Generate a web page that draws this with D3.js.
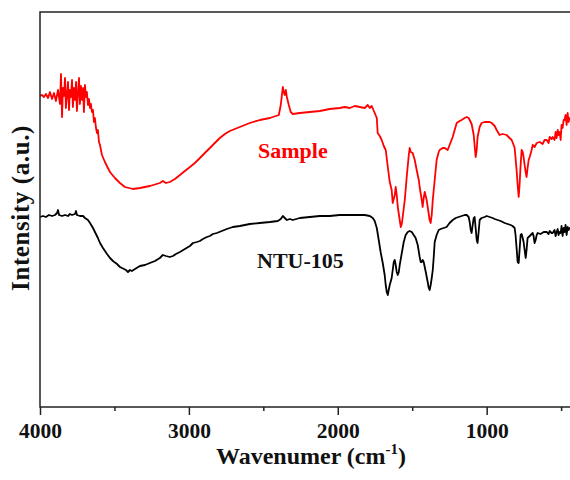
<!DOCTYPE html>
<html>
<head>
<meta charset="utf-8">
<script src="https://cdn.jsdelivr.net/npm/d3@7"></script>
<style>
  body { margin: 0; background: #fff; }
  svg text { font-family: "Liberation Serif", "Times New Roman", serif; font-weight: bold; }
</style>
</head>
<body>
<div id="chart"></div>
<script>
// FTIR spectra, [wavenumber cm-1, intensity a.u.]
const sampleSpectrum = [
  [4000,311],[3987,312],[3973,310],[3960,313],[3946,309],[3933,315],[3919,308],[3906,314],[3893,306],[3879,317],
  [3866,303],[3859,333],[3852,290],[3846,319],[3839,311],[3832,329],[3826,299],[3819,312],[3812,325],[3805,297],
  [3799,317],[3792,310],[3785,327],[3779,300],[3772,319],[3765,307],[3758,325],[3752,296],[3745,314],[3738,329],
  [3732,303],[3725,321],[3718,307],[3711,319],[3705,295],[3698,322],[3691,310],[3685,315],[3678,302],[3671,308],
  [3664,299],[3658,303],[3651,295],[3644,297],[3638,285],[3631,289],[3624,279],[3617,274],[3611,277],[3604,265],
  [3597,262],[3584,252],[3564,245],[3544,239],[3530,235],[3497,229],[3463,224],[3430,220],[3376,218],[3329,219],
  [3262,221],[3195,224],[3175,226],[3154,224],[3128,225],[3094,228],[3060,232],[3027,236],[2993,240],[2960,244],
  [2926,249],[2893,254],[2859,259],[2826,264],[2792,269],[2758,273],[2725,276],[2658,280],[2591,284],[2524,287],
  [2456,289],[2396,292],[2383,302],[2369,320],[2363,315],[2356,312],[2349,317],[2342,310],[2329,302],[2316,295],
  [2302,293],[2255,294],[2188,295],[2121,296],[2054,298],[1987,299],[1953,300],[1920,299],[1886,301],[1852,300],
  [1819,299],[1799,302],[1785,299],[1772,301],[1752,294],[1738,289],[1732,274],[1718,271],[1705,267],[1691,261],
  [1678,257],[1664,240],[1651,225],[1638,217],[1631,204],[1617,212],[1611,220],[1604,212],[1597,200],[1584,187],
  [1577,180],[1570,183],[1564,190],[1550,207],[1537,230],[1523,252],[1517,259],[1510,255],[1497,254],[1483,247],
  [1470,237],[1456,227],[1450,220],[1436,207],[1430,200],[1423,209],[1416,215],[1403,207],[1396,200],[1383,187],
  [1376,184],[1369,192],[1362,207],[1349,227],[1336,247],[1322,255],[1316,257],[1295,259],[1282,259],[1262,257],
  [1249,262],[1228,270],[1215,277],[1201,284],[1181,286],[1168,287],[1148,289],[1134,290],[1121,289],[1114,287],
  [1101,283],[1087,272],[1074,250],[1067,257],[1061,270],[1047,280],[1034,284],[1014,285],[1000,285],[980,285],
  [966,284],[946,281],[933,277],[913,272],[893,273],[866,272],[846,269],[832,267],[819,262],[812,259],
  [806,249],[799,237],[792,222],[785,210],[779,222],[772,242],[765,257],[758,255],[752,250],[745,242],
  [738,235],[732,230],[725,239],[718,247],[711,250],[698,257],[691,262],[678,260],[664,264],[644,265],
  [624,263],[611,267],[597,267],[584,264],[577,270],[564,268],[557,270],[544,267],[537,275],[530,269],
  [523,277],[517,272],[510,275],[503,267],[497,282],[490,279],[483,287],[477,287],[470,292],[463,282],
  [456,294],[450,285],[443,289],[420,287],[400,290]
];

const ntu105Spectrum = [
  [4000,190],[3980,191],[3960,190],[3940,192],[3919,191],[3899,192],[3886,194],[3879,197],[3872,192],[3852,191],
  [3832,192],[3812,191],[3799,193],[3785,192],[3765,193],[3758,196],[3752,192],[3732,191],[3711,191],[3698,189],
  [3678,187],[3664,184],[3644,179],[3631,175],[3611,169],[3597,164],[3577,159],[3550,153],[3530,149],[3510,146],
  [3483,143],[3463,140],[3436,138],[3423,137],[3409,135],[3396,137],[3383,136],[3362,138],[3329,141],[3295,142],
  [3262,144],[3228,146],[3195,149],[3175,152],[3154,151],[3128,150],[3107,151],[3087,153],[3060,155],[3027,158],
  [2993,161],[2973,164],[2946,165],[2926,166],[2906,168],[2879,170],[2859,171],[2839,173],[2812,174],[2779,176],
  [2745,178],[2705,180],[2658,181],[2624,182],[2591,183],[2524,184],[2456,185],[2403,186],[2383,188],[2369,191],
  [2356,189],[2342,187],[2322,188],[2302,187],[2255,189],[2188,190],[2121,191],[2054,191],[1987,192],[1920,192],
  [1852,192],[1819,192],[1785,191],[1765,189],[1752,186],[1738,179],[1725,167],[1711,154],[1698,144],[1685,132],
  [1678,122],[1671,115],[1664,112],[1658,117],[1651,122],[1638,129],[1631,137],[1624,145],[1617,147],[1611,142],
  [1604,135],[1597,132],[1590,135],[1584,142],[1570,154],[1557,165],[1544,172],[1530,175],[1517,176],[1503,175],
  [1490,172],[1477,169],[1463,162],[1450,150],[1443,145],[1436,145],[1430,147],[1423,145],[1409,135],[1396,125],
  [1389,119],[1383,117],[1376,122],[1369,129],[1362,137],[1356,149],[1349,165],[1336,172],[1322,177],[1309,178],
  [1289,179],[1269,180],[1249,184],[1228,187],[1208,189],[1188,190],[1168,191],[1148,192],[1134,192],[1121,190],
  [1114,185],[1107,177],[1101,174],[1094,182],[1087,189],[1081,190],[1074,179],[1067,167],[1061,164],[1054,175],
  [1047,187],[1034,189],[1014,190],[1000,191],[980,190],[960,189],[946,188],[926,187],[906,186],[879,184],
  [859,183],[839,182],[826,181],[812,179],[806,172],[799,159],[792,145],[785,144],[779,157],[772,172],
  [765,173],[758,169],[752,165],[745,157],[738,149],[732,157],[725,169],[711,171],[691,174],[685,171],
  [678,164],[671,167],[664,172],[658,174],[638,173],[617,175],[597,175],[584,173],[577,176],[564,174],
  [557,174],[544,177],[537,171],[530,175],[523,178],[517,172],[510,175],[503,174],[497,181],[490,171],
  [483,179],[477,175],[470,182],[463,172],[456,180],[450,177],[443,179],[420,178],[400,179]
];

const majorTicks = [4000, 3000, 2000, 1000];
const minorTicks = [3500, 2500, 1500, 500];
const seriesLabels = ["Sample", "NTU-105"];

const width = 570, height = 480;
const margin = {top: 12, right: -6, bottom: 73, left: 40};

const svg = d3.select("#chart").append("svg")
  .attr("width", width)
  .attr("height", height)
  .style("background", "#fff");

const x = d3.scaleLinear()
  .domain([4000, 400])
  .range([margin.left, width - margin.right]);

const y = d3.scaleLinear()
  .domain([0, 395])
  .range([height - margin.bottom, margin.top]);

const line = d3.line()
  .x(d => x(d[0]))
  .y(d => y(d[1]));

// spectra
svg.append("path")
  .datum(ntu105Spectrum)
  .attr("fill", "none")
  .attr("stroke", "#000")
  .attr("stroke-width", 1.8)
  .attr("stroke-linejoin", "round")
  .attr("d", line);

svg.append("path")
  .datum(sampleSpectrum)
  .attr("fill", "none")
  .attr("stroke", "#ff0000")
  .attr("stroke-width", 1.8)
  .attr("stroke-linejoin", "round")
  .attr("d", line);

// frame
const y0 = height - margin.bottom;
svg.append("rect")
  .attr("x", margin.left)
  .attr("y", margin.top)
  .attr("width", x(400) - margin.left)
  .attr("height", y0 - margin.top)
  .attr("fill", "none")
  .attr("stroke", "#222")
  .attr("stroke-width", 1.5);

// bottom axis, major ticks with labels
const xAxis = svg.append("g")
  .attr("transform", "translate(0," + y0 + ")")
  .call(d3.axisBottom(x).tickValues(majorTicks).tickSize(8).tickFormat(d3.format("d")));

xAxis.select(".domain").remove();
xAxis.selectAll(".tick line").attr("stroke", "#222").attr("stroke-width", 1.5);
xAxis.selectAll(".tick text")
  .attr("y", 31)
  .attr("dy", 0)
  .attr("fill", "#111")
  .style("font-size", "21.5px");

// minor ticks
svg.append("g")
  .attr("transform", "translate(0," + y0 + ")")
  .call(d3.axisBottom(x).tickValues(minorTicks).tickSize(4).tickFormat(""))
  .call(g => g.select(".domain").remove())
  .selectAll(".tick line").attr("stroke", "#222").attr("stroke-width", 1.5);

// axis titles
const xTitle = svg.append("text")
  .attr("x", 311)
  .attr("y", 464)
  .attr("text-anchor", "middle")
  .attr("fill", "#111")
  .style("font-size", "24px");
xTitle.append("tspan").text("Wavenumer (cm");
xTitle.append("tspan").attr("dy", -10).style("font-size", "15px").text("-1");
xTitle.append("tspan").attr("dy", 10).text(")");

svg.append("text")
  .attr("transform", "translate(29,208) rotate(-90)")
  .attr("text-anchor", "middle")
  .attr("fill", "#111")
  .style("font-size", "25px")
  .style("letter-spacing", "0.6px")
  .text("Intensity (a.u.)");

// series labels
svg.append("text")
  .attr("x", 258)
  .attr("y", 158)
  .attr("fill", "#ff0000")
  .style("font-size", "22px")
  .text(seriesLabels[0]);

svg.append("text")
  .attr("x", 257)
  .attr("y", 268)
  .attr("fill", "#111")
  .style("font-size", "22px")
  .text(seriesLabels[1]);
</script>
</body>
</html>
